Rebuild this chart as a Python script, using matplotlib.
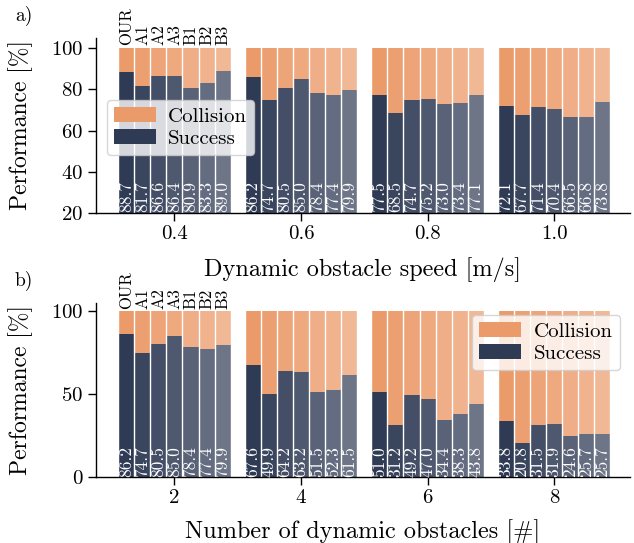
import matplotlib
matplotlib.use("Agg")
import matplotlib.pyplot as plt
from matplotlib.patches import Patch
import numpy as np

plt.rcParams['font.family'] = 'serif'
plt.rcParams['font.serif'] = ['cmr10']
plt.rcParams['mathtext.fontset'] = 'cm'
plt.rcParams['axes.formatter.use_mathtext'] = True

methods = ["OUR", "A1", "A2", "A3", "B1", "B2", "B3"]

speed_labels = ["0.4", "0.6", "0.8", "1.0"]
speed_success = [
    [88.7, 81.7, 86.6, 86.4, 80.9, 83.3, 89.0],
    [86.2, 74.7, 80.5, 85.0, 78.4, 77.4, 79.9],
    [77.5, 68.5, 74.7, 75.2, 73.0, 73.4, 77.1],
    [72.1, 67.7, 71.4, 70.4, 66.5, 66.8, 73.8],
]

count_labels = ["2", "4", "6", "8"]
count_success = [
    [86.2, 74.7, 80.5, 85.0, 78.4, 77.4, 79.9],
    [67.6, 49.9, 64.2, 63.2, 51.5, 52.3, 61.5],
    [51.0, 31.2, 49.2, 47.0, 34.4, 38.3, 43.8],
    [33.8, 20.8, 31.5, 31.9, 24.6, 25.7, 25.7],
]

success_color = "#2f3b55"
collision_color = "#eb9a69"
alphas = [1.0, 0.95, 0.9, 0.85, 0.8, 0.75, 0.7]

fig = plt.figure(figsize=(6.34, 5.43), dpi=100)
W, H = 634, 543

def make_ax(top_px, bottom_px):
    return fig.add_axes([96 / W, 1 - bottom_px / H, (630 - 96) / W, (bottom_px - top_px) / H])

ax1 = make_ax(38, 213)
ax2 = make_ax(303, 477)

bw = 0.127

def draw(ax, labels, data, ymin, yticks, xlabel, show_methods):
    n = len(methods)
    for g, vals in enumerate(data):
        for i, v in enumerate(vals):
            x = g + (i - (n - 1) / 2) * bw
            ax.bar(x, v - ymin, bottom=ymin, width=bw, color=success_color, alpha=alphas[i],
                   edgecolor="none")
            ax.bar(x, 100 - v, bottom=v, width=bw, color=collision_color, alpha=alphas[i],
                   edgecolor="none")
            ax.text(x, ymin + 0.3, f"{v:.1f}", rotation=90, ha="center", va="bottom",
                    color="white", fontsize=12.5)
            if show_methods and g == 0:
                ax.text(x, 101.5, methods[i], rotation=90, ha="center", va="bottom",
                        color="black", fontsize=12)
    for g in range(len(data)):
        for i in range(n + 1):
            x = g + (i - n / 2) * bw
            ax.axvline(x, ymin=0, ymax=(100 - ymin) / (105 - ymin), color="white", lw=1.0)
    ax.set_xlim(-0.62, 3.6)
    ax.set_ylim(ymin, 105)
    ax.set_xticks(range(len(labels)))
    ax.set_xticklabels(labels)
    ax.set_yticks(yticks)
    ax.tick_params(labelsize=15, length=5.5, width=1.0)
    ax.spines['top'].set_visible(False)
    ax.spines['right'].set_visible(False)
    ax.spines['left'].set_linewidth(1.0)
    ax.spines['bottom'].set_linewidth(1.0)
    ax.set_xlabel(xlabel, fontsize=17.5)
    ax.set_ylabel("Performance [%]", fontsize=17)
    ax.yaxis.set_label_coords(-0.118, 0.5)

draw(ax1, speed_labels, speed_success, 20, [20, 40, 60, 80, 100],
     "Dynamic obstacle speed [m/s]", True)
draw(ax2, count_labels, count_success, 0, [0, 50, 100],
     "Number of dynamic obstacles [#]", True)
ax1.xaxis.set_label_coords(0.5, -44 / 175)
ax2.xaxis.set_label_coords(0.5, -42 / 174)

handles = [Patch(facecolor=collision_color, label="Collision"),
           Patch(facecolor=success_color, label="Success")]
ax1.legend(handles=handles, loc="upper left", bbox_to_anchor=(0.02, 0.646), fontsize=15,
           handlelength=2.0, borderpad=0.35, labelspacing=0.15, borderaxespad=0,
           handletextpad=0.6)
ax2.legend(handles=handles, loc="upper right", bbox_to_anchor=(0.981, 0.931), fontsize=15,
           handlelength=2.0, borderpad=0.35, labelspacing=0.15, borderaxespad=0,
           handletextpad=0.6)

fig.text(15 / W, 1 - 6 / H, "a)", fontsize=14, va="top")
fig.text(15 / W, 1 - 271 / H, "b)", fontsize=14, va="top")

fig.savefig("out.png", dpi=100)
